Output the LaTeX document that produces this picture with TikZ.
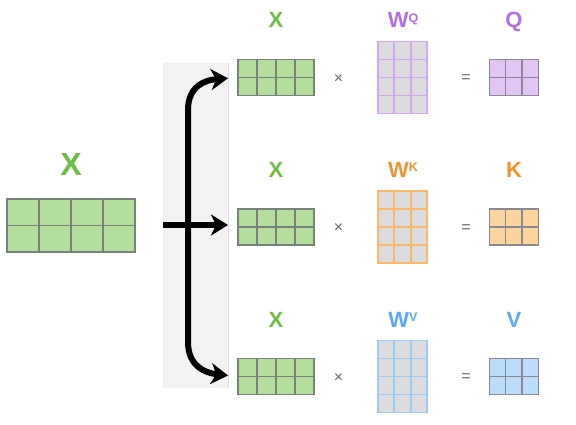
\documentclass[tikz,border=0pt]{standalone}
\usepackage{fontspec}
\setmainfont{Liberation Sans}
\usetikzlibrary{calc,arrows.meta}
\definecolor{xgreen}{HTML}{6DBE45}
\definecolor{xfill}{HTML}{B3DE9E}
\definecolor{xline}{HTML}{77837A}
\definecolor{qtext}{HTML}{B46EE3}
\definecolor{qfill}{HTML}{E1C6F5}
\definecolor{qline}{HTML}{D7A6F2}
\definecolor{ktext}{HTML}{F0932F}
\definecolor{kfill}{HTML}{FDD49E}
\definecolor{kline}{HTML}{FBB869}
\definecolor{vtext}{HTML}{5AABF5}
\definecolor{vfill}{HTML}{BBDCFA}
\definecolor{vline}{HTML}{99CCF9}
\definecolor{wfill}{HTML}{DCDCDE}
\definecolor{rline}{HTML}{8C8890}
\definecolor{panelgray}{HTML}{F2F2F2}
\definecolor{opgray}{HTML}{6A6A6A}
\tikzset{
  gridbox/.style={anchor=north west, inner sep=0pt, outer sep=0pt},
  lbl/.style={anchor=base, inner sep=0pt, font=\fontsize{22}{22}\selectfont\bfseries},
  biglbl/.style={anchor=base, inner sep=0pt, font=\fontsize{32}{32}\selectfont\bfseries},
  op/.style={inner sep=0pt, text=opgray, font=\fontsize{16}{16}\selectfont},
  flow/.style={line width=6pt, black},
  tip/.tip={Stealth[length=17pt,width=21pt,inset=5pt]}
}
% #1 name, #2 x, #3 y (top-left), #4 cols, #5 rows, #6 cell w, #7 cell h, #8 fill, #9 line style
\newcommand\mgrid[9]{%
  \node[gridbox, fill=#8, minimum width=#4*#6pt, minimum height=#5*#7pt] (#1) at (#2,#3) {};
  \foreach \i in {1,...,#4}{\draw[#9] ($(#1.north west)!\i/#4!(#1.north east)$) -- ($(#1.south west)!\i/#4!(#1.south east)$);}
  \foreach \j in {1,...,#5}{\draw[#9] ($(#1.north west)!\j/#5!(#1.south west)$) -- ($(#1.north east)!\j/#5!(#1.south east)$);}
  \draw[#9] (#1.north west) rectangle (#1.south east);
}
\newcommand\supW[1]{W\raisebox{5.6pt}{\fontsize{12.5}{12.5}\selectfont #1}}
\begin{document}
\begin{tikzpicture}[x=1pt,y=-1pt]
\fill[white] (0,0) rectangle (576,425);
\useasboundingbox (0,0) rectangle (576,425);
% input
\node[biglbl, text=xgreen] (bigxl) at (71,176) {X};
\mgrid{bigx}{7}{199}{4}{2}{32}{26.5}{xfill}{xline,line width=1.3pt}
% panel
\node[gridbox, fill=panelgray, minimum width=65pt, minimum height=325pt] (panel) at (163,63) {};
\draw[black!13, line width=0.8pt] (panel.north east) -- (panel.south east);
% rows
\foreach \r/\dy/\tc/\fc/\lc/\nm in {1/0/qtext/qfill/qline/Q, 2/149.5/ktext/kfill/kline/K, 3/299/vtext/vfill/vline/V}{
  \node[lbl, text=\tc] (wl\r) at (403,28+\dy) {\supW{\nm}};
  \node[lbl, text=xgreen] (xl\r) at (276,28+\dy) {X};
  \node[lbl, text=\tc] (rl\r) at (514,28+\dy) {\nm};
  \mgrid{x\r}{238}{59.5+\dy}{4}{2}{19}{18}{xfill}{xline,line width=1.2pt}
  \mgrid{w\r}{378}{41.5+\dy}{3}{4}{16.33}{18}{wfill}{\lc,line width=1.8pt}
  \mgrid{r\r}{489.5}{59.5+\dy}{3}{2}{16.2}{18}{\fc}{rline,line width=1.2pt}
  \node[op] (times\r) at (338.5,79+\dy) {×};
  \node[op] (eq\r) at (466,79+\dy) {=};
}
% arrows
\coordinate (split) at (188,225);
\draw[flow, -tip, shorten >=10pt] (panel.west |- split) -- (x2.west |- split);
\draw[flow, tip-tip, shorten <=10pt, shorten >=10pt]
  (x1.west) .. controls (205,80) and (188,86) .. (188,110) -- (188,342)
  .. controls (188,366) and (205,373) .. (x3.west);
\end{tikzpicture}
\end{document}
